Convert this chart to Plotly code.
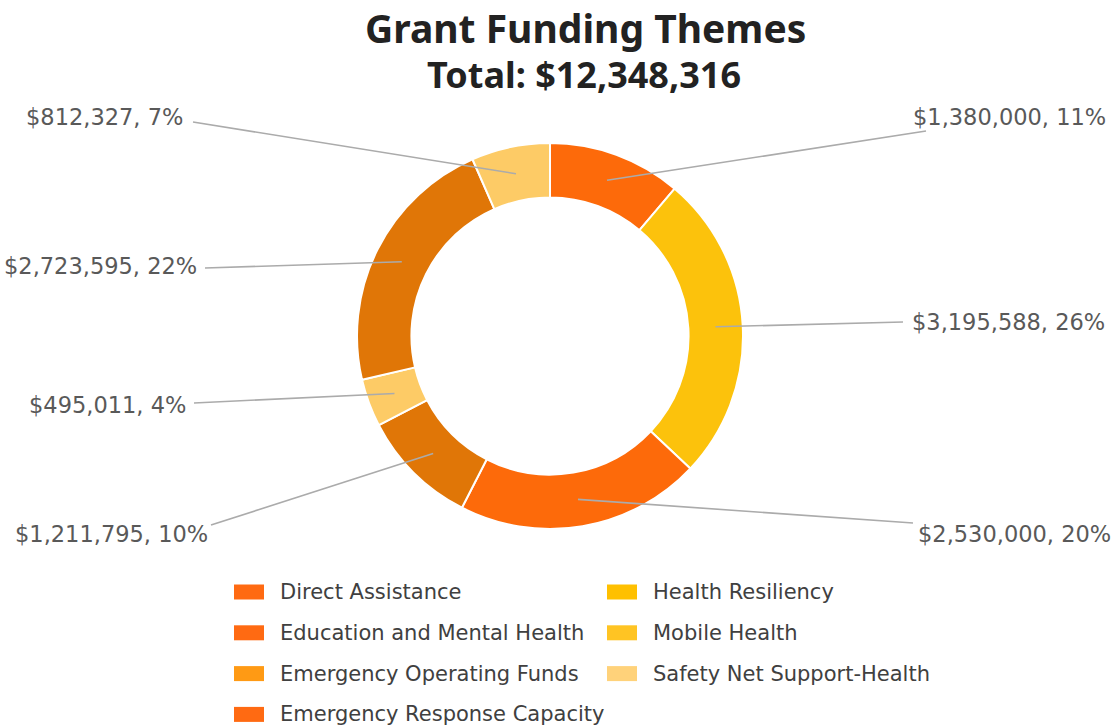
import plotly.graph_objects as go
import numpy as np

# ---------------- data ----------------
categories = [
    "Direct Assistance",
    "Health Resiliency",
    "Education and Mental Health",
    "Emergency Operating Funds",
    "Mobile Health",
    "Emergency Response Capacity",
    "Safety Net Support-Health",
]
amounts = [1380000, 3195588, 2530000, 1211795, 495011, 2723595, 812327]
title_text = "Grant Funding Themes"

# ---------------- styles / layout ----------------
slice_colors = ["#FD6A0A", "#FCC20C", "#FD6A0A", "#E07607", "#FDCB66", "#E07607", "#FDCB66"]
legend_colors = {
    "Direct Assistance": "#FF6A12",
    "Education and Mental Health": "#FF6A12",
    "Emergency Operating Funds": "#FF9A14",
    "Emergency Response Capacity": "#FF6A12",
    "Health Resiliency": "#FFC000",
    "Mobile Health": "#FFC423",
    "Safety Net Support-Health": "#FFD27A",
}

W, H = 1115, 727
CX, CY = 550, 336
R_OUT = 193
HOLE = 0.718
R_MID = R_OUT * (1 + HOLE) / 2

# label layout (pixel positions, slice order)
label_text_x = [911, 910, 916, 210, 188, 199, 185]
label_text_y = [117, 322, 534, 534, 405, 266, 117]
line_end_x = [926, 903, 913, 211, 194, 205, 193]
line_end_y = [131, 322, 523, 525, 403, 268, 122]


def px(x):
    return x / W


def py(y):
    return 1 - y / H


total = sum(amounts)

fig = go.Figure()
fig.add_trace(go.Pie(
    values=amounts,
    labels=categories,
    hole=HOLE,
    sort=False,
    direction="clockwise",
    rotation=0,
    marker=dict(colors=slice_colors, line=dict(color="white", width=2)),
    textinfo="none",
    showlegend=False,
    domain=dict(x=[px(CX - R_OUT), px(CX + R_OUT)], y=[py(CY + R_OUT), py(CY - R_OUT)]),
))

shapes = []
annotations = []

# leader lines and labels
vals = np.array(amounts, dtype=float)
cum = np.cumsum(vals)
mid = (cum - vals / 2) / total * 2 * np.pi
for i, v in enumerate(amounts):
    th = mid[i]
    sx = CX + R_MID * np.sin(th)
    sy = CY - R_MID * np.cos(th)
    shapes.append(dict(type="line", xref="paper", yref="paper",
                       x0=px(sx), y0=py(sy), x1=px(line_end_x[i]), y1=py(line_end_y[i]),
                       line=dict(color="#ABABAB", width=1.6), layer="above"))
    right = np.sin(th) > 0
    annotations.append(dict(
        x=px(label_text_x[i]), y=py(label_text_y[i]), xref="paper", yref="paper",
        text=f"${v:,}, {round(100 * v / total)}%",
        showarrow=False, xanchor="left" if right else "right", yanchor="middle",
        font=dict(family="DejaVu Sans", size=22.5, color="#595959"),
    ))

# titles
annotations.append(dict(x=px(585), y=py(27), xref="paper", yref="paper", text=f"<b>{title_text}</b>",
                        showarrow=False, xanchor="center", yanchor="middle",
                        font=dict(family="Noto Sans", size=39, color="#222222")))
annotations.append(dict(x=px(584), y=py(75), xref="paper", yref="paper", text=f"<b>Total: ${total:,}</b>",
                        showarrow=False, xanchor="center", yanchor="middle",
                        font=dict(family="Noto Sans", size=36, color="#222222")))

# legend (two columns, alphabetical)
legend_names = sorted(categories)
col_swatch_x = [234, 607]
col_text_x = [278, 651]
row0, row_step = 592, 40.8
rows_per_col = 4
for k, name in enumerate(legend_names):
    c = k // rows_per_col
    r = k % rows_per_col
    yc = row0 + r * row_step
    shapes.append(dict(type="rect", xref="paper", yref="paper",
                       x0=px(col_swatch_x[c]), x1=px(col_swatch_x[c] + 30),
                       y0=py(yc - 7.5), y1=py(yc + 7.5),
                       fillcolor=legend_colors[name], line=dict(width=0), layer="above"))
    annotations.append(dict(x=px(col_text_x[c]), y=py(yc), xref="paper", yref="paper",
                            text=name, showarrow=False, xanchor="left", yanchor="middle",
                            font=dict(family="DejaVu Sans", size=21, color="#404040")))

fig.update_layout(
    width=W, height=H,
    margin=dict(l=0, r=0, t=0, b=0),
    paper_bgcolor="white", plot_bgcolor="white",
    shapes=shapes, annotations=annotations,
    showlegend=False,
)

fig.write_html("out.html")
